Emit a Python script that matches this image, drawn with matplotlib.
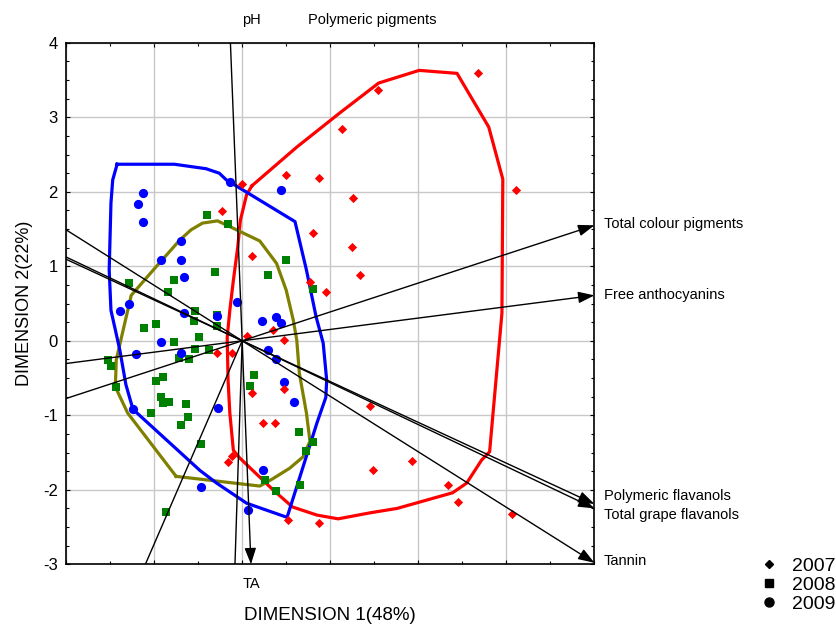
import numpy as np
import matplotlib
matplotlib.use("Agg")
import matplotlib.pyplot as plt
from matplotlib.lines import Line2D

plt.rcParams["font.family"] = ["Liberation Sans", "DejaVu Sans"]
plt.rcParams["axes.unicode_minus"] = False

# --- scores per vintage (dimension 1, dimension 2) ---
x_2007 = [2.68, 1.54, 1.13, 0.87, 1.26, 3.11, 0.50, 0.00, -0.23, 0.80, 0.11, 0.77,
          0.95, 1.25, 1.34, 0.35, 0.48, 0.05, -0.29, -0.12, 0.11, 0.48, 0.24, 0.37,
          -0.12, -0.16, 0.52, 0.87, 1.45, 1.93, 1.49, 2.34, 2.45, 3.06]
y_2007 = [3.60, 3.37, 2.84, 2.18, 1.92, 2.02, 2.22, 2.10, 1.74, 1.45, 1.14, 0.79,
          0.65, 1.26, 0.88, 0.14, 0.01, 0.07, -0.17, -0.17, -0.70, -0.65, -1.10, -1.10,
          -1.55, -1.63, -2.40, -2.45, -0.88, -1.61, -1.74, -1.94, -2.17, -2.32]

x_2008 = [-0.40, -0.16, 0.50, 0.29, 0.81, -0.31, -0.77, -1.29, -0.84, -0.54, -0.55,
          -0.29, -0.29, -1.11, -0.98, -0.49, -0.77, -0.53, -0.38, -0.60, -0.72, -1.52,
          -1.49, -0.98, -0.90, -1.43, 0.14, 0.09, -0.92, -0.90, -0.83, -0.64, -0.62,
          -0.70, -1.03, -0.47, -0.86, 0.65, 0.81, 0.73, 0.66, 0.38, 0.26]
y_2008 = [1.69, 1.57, 1.09, 0.88, 0.70, 0.93, 0.81, 0.78, 0.65, 0.40, 0.27,
          0.35, 0.20, 0.17, 0.22, 0.05, -0.01, -0.11, -0.12, -0.24, -0.23, -0.26,
          -0.34, -0.54, -0.49, -0.62, -0.46, -0.61, -0.76, -0.84, -0.82, -0.85, -1.02,
          -1.13, -0.97, -1.38, -2.30, -1.22, -1.36, -1.48, -1.94, -2.01, -1.87]

x_2009 = [-1.13, -1.18, -1.13, -0.14, 0.44, -0.70, -0.92, -0.70, -0.66, -1.28, -1.39,
          -0.66, -0.92, -0.06, -0.29, 0.22, 0.38, 0.44, 0.29, 0.38, 0.48, 0.59,
          -0.27, 0.24, 0.07, -1.20, -0.70, -1.24, -0.47]
y_2009 = [1.98, 1.84, 1.59, 2.13, 2.02, 1.34, 1.09, 1.09, 0.86, 0.50, 0.40,
          0.37, -0.01, 0.52, 0.33, 0.27, 0.32, 0.24, -0.12, -0.24, -0.55, -0.82,
          -0.90, -1.74, -2.27, -0.18, -0.17, -0.92, -1.96]

# --- outlines around each vintage ---
hull_2007_x = [0.11, 0.62, 1.11, 1.55, 2.01, 2.44, 2.80, 2.96, 2.95, 2.81, 2.72, 2.55,
               2.39, 1.76, 1.45, 1.09, 0.85, 0.57, 0.35, 0.12, -0.03, -0.10, -0.14,
               -0.16, -0.17, -0.14, -0.10, -0.05, -0.02, 0.05]
hull_2007_y = [2.08, 2.60, 3.06, 3.46, 3.63, 3.59, 2.87, 2.17, 0.37, -1.49, -1.60, -1.91,
               -2.04, -2.25, -2.31, -2.39, -2.34, -2.23, -2.00, -1.74, -1.57, -1.47, -0.97,
               -0.53, 0.05, 0.41, 0.81, 1.26, 1.62, 1.96]

hull_2008_x = [-0.75, -0.31, 0.20, 0.35, 0.54, 0.69, 0.77, 0.73, 0.65, 0.62, 0.58, 0.50,
               0.39, 0.20, -0.10, -0.28, -0.45, -0.58, -0.71, -0.98, -1.26, -1.37,
               -1.43, -1.44, -1.30]
hull_2008_y = [-1.82, -1.88, -1.95, -1.85, -1.71, -1.56, -1.35, -0.97, -0.44, 0.01, 0.28, 0.68,
               1.04, 1.34, 1.51, 1.61, 1.58, 1.49, 1.35, 0.99, 0.61, 0.05,
               -0.26, -0.62, -0.97]

hull_2009_x = [-1.42, -0.77, -0.41, -0.26, -0.18, 0.60, 0.73, 0.84, 0.92, 0.96, 0.95, 0.85,
               0.51, 0.05, -0.29, -0.48, -1.24, -1.32, -1.39, -1.49, -1.51, -1.49, -1.47]
hull_2009_y = [2.37, 2.37, 2.31, 2.25, 2.16, 1.60, 0.95, 0.32, -0.03, -0.53, -0.76, -1.10,
               -2.37, -2.18, -1.91, -1.74, -0.92, -0.59, -0.12, 0.41, 0.95, 1.85, 2.16]

# --- variable loadings ---
var_names = ["pH", "TA", "Polymeric pigments", "Total colour pigments",
             "Free anthocyanins", "Polymeric flavanols", "Total grape flavanols", "Tannin"]
var_x = [0.11, 0.10, 1.48, 4.00, 4.00, 4.00, 4.00, 4.00]
var_y = [4.04, -3.00, 4.04, 1.55, 0.61, -2.19, -2.25, -2.98]

fig = plt.figure(figsize=(8.36, 6.26), dpi=100)
ax = fig.add_axes([0.079, 0.0986, 0.632, 0.833])

ax.set_xlim(-2, 4)
ax.set_ylim(-3, 4)
ax.set_xticks(np.arange(-2, 5, 1))
ax.set_xticks(np.arange(-2, 4.01, 0.5), minor=True)
ax.set_yticks(np.arange(-3, 5, 1))
ax.set_yticks(np.arange(-3, 4.01, 0.25), minor=True)
ax.grid(True, which="major", color="#c8c8c8", lw=1.0, zorder=0)
ax.set_axisbelow(True)
ax.tick_params(which="both", direction="in", top=True, right=True, width=0.8,
               labelbottom=False, labelsize=12, pad=6)
ax.tick_params(which="major", length=3)
ax.tick_params(which="minor", length=2.3)
for s in ax.spines.values():
    s.set_linewidth(1.2)

# outlines
ax.plot(hull_2007_x + hull_2007_x[:1], hull_2007_y + hull_2007_y[:1], color="#ff0000", lw=2.3, zorder=2)
ax.plot(hull_2008_x + hull_2008_x[:1], hull_2008_y + hull_2008_y[:1], color="#808000", lw=2.3, zorder=2)
ax.plot(hull_2009_x + hull_2009_x[:1], hull_2009_y + hull_2009_y[:1], color="#0000ff", lw=2.3, zorder=2)

# points
ax.scatter(x_2008, y_2008, marker="s", s=36, color="#008000", lw=0, zorder=3)
ax.scatter(x_2009, y_2009, marker="o", s=44, color="#0000ff", lw=0, zorder=3)
ax.scatter(x_2007, y_2007, marker="D", s=22, color="#ff0000", lw=0, zorder=3)

# loading vectors, each line continued back through the origin
label_offsets = {
    "pH": ((0, 14), "center", "center"),
    "TA": ((0, -14), "center", "center"),
    "Polymeric pigments": ((0, 14), "center", "center"),
    "Total colour pigments": ((7, 1), "left", "center"),
    "Free anthocyanins": ((7, 0.5), "left", "center"),
    "Polymeric flavanols": ((7, 6), "left", "center"),
    "Total grape flavanols": ((7, -5), "left", "center"),
    "Tannin": ((7, 1), "left", "center"),
}
for name, vx, vy in zip(var_names, var_x, var_y):
    ax.plot([0, -10 * vx], [0, -10 * vy], color="k", lw=1.0, zorder=4)
    ax.annotate("", xy=(vx, vy), xytext=(0, 0), zorder=4,
                arrowprops=dict(arrowstyle="-|>,head_length=0.7,head_width=0.25",
                                mutation_scale=14, color="k", lw=1.0,
                                shrinkA=0, shrinkB=0))
    off, ha, va = label_offsets[name]
    ax.annotate(name, xy=(vx, vy), xytext=off, textcoords="offset points",
                ha=ha, va=va, fontsize=10.5, annotation_clip=False)

ax.set_xlabel("DIMENSION 1(48%)", fontsize=13.5, labelpad=31)
ax.set_ylabel("DIMENSION 2(22%)", fontsize=13, labelpad=7)

handles = [Line2D([], [], ls="", marker="D", ms=4.5, color="k"),
           Line2D([], [], ls="", marker="s", ms=6, color="k"),
           Line2D([], [], ls="", marker="o", ms=6.5, color="k")]
fig.legend(handles, ["2007", "2008", "2009"], loc="center left",
           bbox_to_anchor=(0.897, 0.065), frameon=False, fontsize=14,
           labelspacing=0.08, handlelength=0.6, handletextpad=0.85,
           borderpad=0.2)

fig.savefig("out.png", dpi=100)
